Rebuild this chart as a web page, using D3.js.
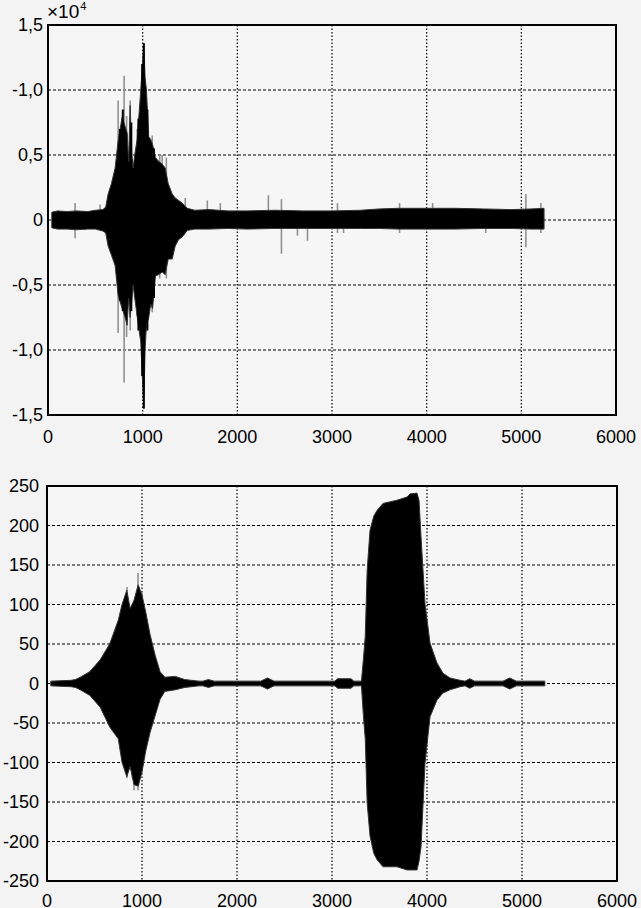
<!DOCTYPE html>
<html>
<head>
<meta charset="utf-8">
<script src="https://cdn.jsdelivr.net/npm/d3@7"></script>
<style>
  html, body { margin: 0; padding: 0; background: #f3f3f3; }
  svg { display: block; }
  text { font-family: "Liberation Sans", Arial, sans-serif; fill: #000; }
</style>
</head>
<body>
<svg id="chart" width="641" height="908"></svg>
<script>
// ---------------- DATA ----------------
// shared x axis
const xTicks = [0, 1000, 2000, 3000, 4000, 5000, 6000];
const xTickLabels = ["0", "1000", "2000", "3000", "4000", "5000", "6000"];

// Top panel (units of 10^4): envelope [sample, upper, lower]
const topTicks = [-1.5, -1.0, -0.5, 0, 0.5, 1.0, 1.5];
const topTickLabels = ["-1,5", "-1,0", "-0,5", "0", "0,5", "-1,0", "1,5"];
const topEnvelope = [
  [40, 0.06, -0.06], [100, 0.07, -0.07], [200, 0.065, -0.07], [300, 0.07, -0.075],
  [420, 0.065, -0.07], [500, 0.075, -0.07], [580, 0.08, -0.085], [610, 0.1, -0.1],
  [635, 0.2, -0.2], [670, 0.28, -0.27], [709, 0.40, -0.35], [741, 0.61, -0.58],
  [783, 0.79, -0.68], [815, 0.72, -0.75], [836, 0.67, -0.81], [852, 0.45, -0.6],
  [868, 0.88, -0.75], [885, 0.5, -0.62], [899, 0.4, -0.5], [920, 0.52, -0.62],
  [942, 0.62, -0.74], [980, 1.0, -0.94], [1012, 1.36, -1.45], [1025, 1.1, -1.0],
  [1040, 1.0, -0.81], [1064, 0.64, -0.75], [1085, 0.62, -0.65], [1105, 0.58, -0.68],
  [1135, 0.48, -0.43], [1170, 0.45, -0.42], [1206, 0.43, -0.4], [1238, 0.4, -0.42],
  [1270, 0.28, -0.3], [1312, 0.2, -0.3], [1344, 0.17, -0.2], [1380, 0.15, -0.15],
  [1418, 0.13, -0.13], [1471, 0.09, -0.08], [1550, 0.075, -0.07], [1700, 0.08, -0.07],
  [1900, 0.07, -0.065], [2100, 0.07, -0.07], [2400, 0.075, -0.065], [2700, 0.07, -0.065],
  [3000, 0.07, -0.065], [3300, 0.075, -0.065], [3500, 0.085, -0.065], [3700, 0.09, -0.07],
  [4000, 0.09, -0.07], [4300, 0.09, -0.07], [4600, 0.085, -0.065], [4900, 0.08, -0.065],
  [5100, 0.085, -0.07], [5240, 0.09, -0.07]
];
// lighter single spikes [sample, upper, lower]
const topGraySpikes = [
  [286, 0.13, -0.14], [550, 0.12, -0.05], [741, 0.92, -0.87], [804, 1.11, -1.25],
  [830, 0.8, -0.9], [868, 0.92, -0.85], [942, 0.7, -0.74], [1101, 0.65, -0.71],
  [1180, 0.5, -0.45], [1206, 0.5, -0.4], [1250, 0.48, -0.45], [1450, 0.17, -0.05],
  [1683, 0.15, -0.05], [1820, 0.13, -0.05], [2328, 0.19, -0.05], [2466, 0.16, -0.26],
  [2635, 0.05, -0.12], [2741, 0.05, -0.16], [3058, 0.13, -0.1], [3122, 0.05, -0.1],
  [3714, 0.13, -0.1], [4063, 0.13, -0.05], [4624, 0.05, -0.1], [5048, 0.2, -0.21],
  [5206, 0.13, -0.1]
];
// darker single spikes [sample, upper, lower]
const topBlackSpikes = [
  [760, 0.7, -0.62], [790, 0.85, -0.7], [880, 0.75, -0.7], [955, 0.78, -0.85],
  [995, 1.2, -1.2], [1012, 1.36, -1.45], [1050, 0.85, -0.85], [1120, 0.55, -0.6]
];

// Bottom panel: envelope [sample, upper, lower]
const botTicks = [-250, -200, -150, -100, -50, 0, 50, 100, 150, 200, 250];
const botTickLabels = ["-250", "-200", "-150", "-100", "-50", "0", "50", "100", "150", "200", "250"];
const botEnvelope = [
  [40, 3, -3], [250, 4, -4], [300, 5, -5], [350, 8, -8], [450, 15, -15],
  [560, 30, -30], [660, 50, -55], [750, 80, -70], [790, 100, -100], [840, 118, -118],
  [875, 95, -105], [915, 105, -128], [960, 125, -130], [1000, 112, -112], [1040, 90, -85],
  [1085, 62, -62], [1140, 35, -40], [1190, 15, -20], [1240, 8, -10], [1350, 9, -8],
  [1450, 5, -5], [1600, 3, -3], [1640, 3, -3], [1700, 5, -5], [1760, 3, -3],
  [2250, 3, -3], [2320, 7, -7], [2390, 3, -3], [3030, 3, -3], [3060, 6, -6],
  [3200, 6, -6], [3230, 3, -3], [3310, 3, -3], [3330, 30, -40], [3350, 60, -70],
  [3370, 143, -151], [3400, 194, -193], [3440, 212, -215], [3474, 219, -223], [3537, 228, -232],
  [3684, 232, -232], [3789, 236, -236], [3821, 240, -236], [3895, 241, -236], [3916, 232, -225],
  [3937, 186, -207], [3979, 101, -101], [4032, 51, -42], [4105, 26, -21], [4168, 13, -12],
  [4242, 7, -8], [4350, 4, -4], [4400, 3, -3], [4450, 6, -6], [4500, 3, -3],
  [4800, 3, -3], [4870, 7, -7], [4940, 3, -3], [5240, 3, -3]
];
const botGraySpikes = [
  [842, 122, -120], [900, 95, -120], [916, 105, -135], [958, 140, -135], [1000, 115, -110]
];

// ---------------- DRAW ----------------
const svg = d3.select("#chart");

function panel(cfg) {
  const x = d3.scaleLinear().domain([0, 6000]).range([cfg.left, cfg.right]);
  const y = d3.scaleLinear().domain([cfg.yMin, cfg.yMax]).range([cfg.bottom, cfg.top]);
  const g = svg.append("g");

  g.append("rect")
    .attr("x", cfg.left).attr("y", cfg.top)
    .attr("width", cfg.right - cfg.left).attr("height", cfg.bottom - cfg.top)
    .attr("fill", "#f6f6f6");

  // grid
  g.selectAll(".hg").data(cfg.yTicks.slice(1, -1)).enter().append("line")
    .attr("x1", cfg.left).attr("x2", cfg.right)
    .attr("y1", d => y(d)).attr("y2", d => y(d))
    .attr("stroke", "#000").attr("stroke-width", 1.2)
    .attr("stroke-dasharray", "3,2");
  g.selectAll(".vg").data(xTicks.slice(1, -1)).enter().append("line")
    .attr("y1", cfg.top).attr("y2", cfg.bottom)
    .attr("x1", d => x(d)).attr("x2", d => x(d))
    .attr("stroke", "#000").attr("stroke-width", 1.2)
    .attr("stroke-dasharray", "1.5,2");

  // gray spikes
  g.selectAll(".gs").data(cfg.gray).enter().append("line")
    .attr("x1", d => x(d[0])).attr("x2", d => x(d[0]))
    .attr("y1", d => y(d[1])).attr("y2", d => y(d[2]))
    .attr("stroke", "#909090").attr("stroke-width", 1.6);

  // envelope
  const area = d3.area()
    .x(d => x(d[0])).y0(d => y(d[2])).y1(d => y(d[1]));
  g.append("path").datum(cfg.env)
    .attr("d", area)
    .attr("fill", "#000").attr("stroke", "#333").attr("stroke-width", 1);

  // dark spikes
  g.selectAll(".bs").data(cfg.black).enter().append("line")
    .attr("x1", d => x(d[0])).attr("x2", d => x(d[0]))
    .attr("y1", d => y(d[1])).attr("y2", d => y(d[2]))
    .attr("stroke", "#000").attr("stroke-width", 2);

  // frame
  g.append("rect")
    .attr("x", cfg.left).attr("y", cfg.top)
    .attr("width", cfg.right - cfg.left).attr("height", cfg.bottom - cfg.top)
    .attr("fill", "none").attr("stroke", "#000").attr("stroke-width", 2);

  // y labels
  g.selectAll(".yl").data(cfg.yTicks).enter().append("text")
    .attr("x", cfg.left - cfg.labelGap).attr("y", d => y(d))
    .attr("dy", "0.36em")
    .attr("text-anchor", "end").attr("font-size", 18)
    .text((d, i) => cfg.yLabels[i]);

  // x labels
  g.selectAll(".xl").data(xTicks).enter().append("text")
    .attr("x", d => x(d)).attr("y", cfg.bottom + cfg.xLabelGap)
    .attr("text-anchor", "middle").attr("font-size", 18)
    .text((d, i) => xTickLabels[i]);
}

panel({
  left: 48, right: 616, top: 25, bottom: 415, yMin: -1.5, yMax: 1.5,
  yTicks: topTicks, yLabels: topTickLabels, env: topEnvelope,
  gray: topGraySpikes, black: topBlackSpikes, labelGap: 5, xLabelGap: 28
});
panel({
  left: 47, right: 617, top: 486, bottom: 881, yMin: -250, yMax: 250,
  yTicks: botTicks, yLabels: botTickLabels, env: botEnvelope,
  gray: botGraySpikes, black: [], labelGap: 8, xLabelGap: 26
});

// exponent label
const ex = svg.append("text").attr("x", 47).attr("y", 18).attr("font-size", 19);
ex.append("tspan").text("\u00d710");
ex.append("tspan").attr("font-size", 11).attr("dy", -8).attr("dx", 1).text("4");
</script>
</body>
</html>
